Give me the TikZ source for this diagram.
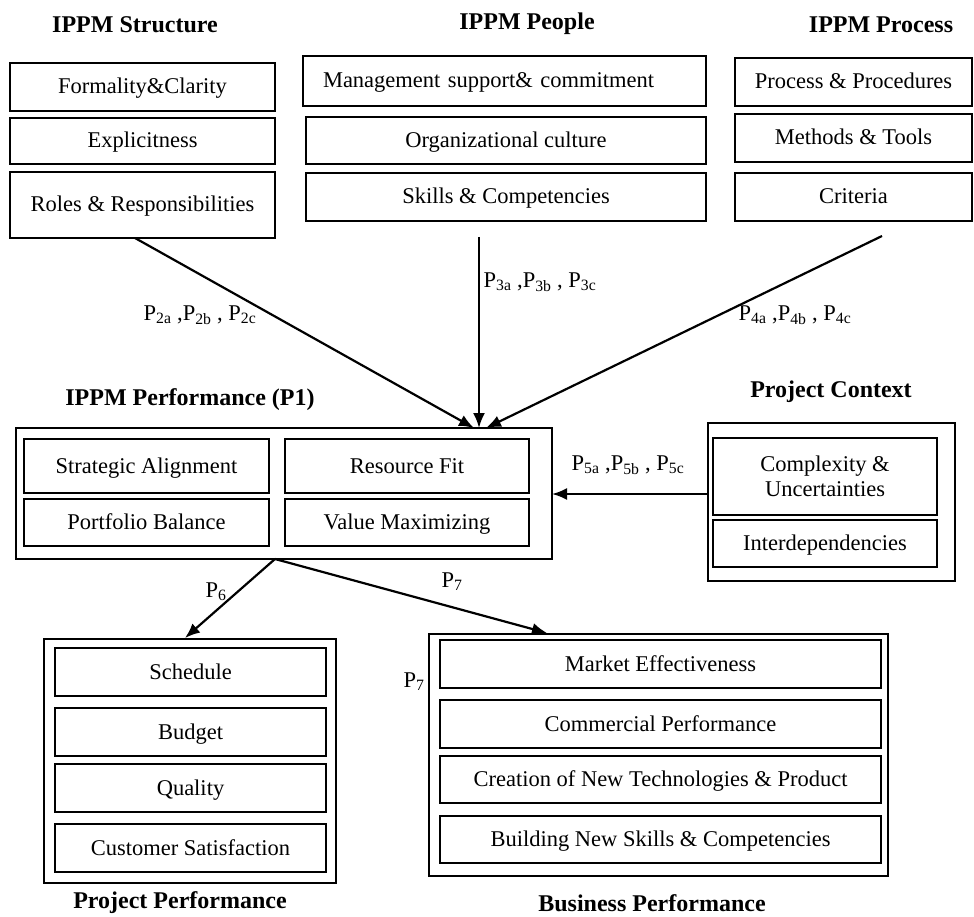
\documentclass[tikz,border=0pt]{standalone}
\usepackage{fontspec}
\setmainfont{Liberation Serif}
\usetikzlibrary{arrows.meta}

\begin{document}
\begin{tikzpicture}[x=1pt, y=-1pt,
  font=\fontsize{22.5}{25}\selectfont,
  box/.style 2 args={draw, line width=1.7pt, inner sep=0pt, text height=17pt, text depth=3pt, minimum width=#1pt, minimum height=#2pt},
  head/.style={font=\fontsize{24}{27}\selectfont\bfseries},
  link/.style={line width=2.2pt, -{Latex[length=15pt,width=12pt]}}]
\useasboundingbox (0,0) rectangle (974,917);

\node[head] (hs) at (135,25) {IPPM Structure};
\node[head] (hp) at (527,24) {IPPM People};
\node[head] (hr) at (881,25) {IPPM Process};
\node[box={265}{48}] (s1) at (142.5,87) {Formality\&Clarity};
\node[box={265}{46}] (s2) at (142.5,141) {Explicitness};
\node[box={265}{66}] (s3) at (142.5,205) {Roles \& Responsibilities};
\node[box={403}{50}, text width=363pt, inner xsep=20pt, align=left] (p1) at (504.5,81) {Management support\& commitment};
\node[box={400}{47}] (p2) at (506,140.5) {Organizational culture};
\node[box={400}{48}] (p3) at (506,197) {Skills \& Competencies};
\node[box={237}{48}] (r1) at (853.5,82) {Process \& Procedures};
\node[box={237}{48}] (r2) at (853.5,138) {Methods \& Tools};
\node[box={237}{48}] (r3) at (853.5,197) {Criteria};

\node[head] (hperf) at (190,400) {IPPM Performance (P1)};
\node[box={536}{131}] (perf) at (284,493.5) {};
\node[box={245}{54}] (a1) at (146.5,466) {Strategic Alignment};
\node[box={244}{54}] (a2) at (407,466) {Resource Fit};
\node[box={245}{47}] (a3) at (146.5,522.5) {Portfolio Balance};
\node[box={244}{47}] (a4) at (407,522.5) {Value Maximizing};

\node[head] (hctx) at (831,392) {Project Context};
\node[box={247}{158}] (ctx) at (831.5,502) {};
\node[box={224}{77}, text height=, text depth=, align=center] (c1) at (825,476.5) {Complexity \&\\Uncertainties};
\node[box={224}{47}] (c2) at (825,543.5) {Interdependencies};

\node[box={292}{244}] (proj) at (190,761) {};
\node[box={271}{48}] (q1) at (190.5,672) {Schedule};
\node[box={271}{48}] (q2) at (190.5,732) {Budget};
\node[box={271}{48}] (q3) at (190.5,788) {Quality};
\node[box={271}{48}] (q4) at (190.5,848) {Customer Satisfaction};
\node[head] (hproj) at (180,903) {Project Performance};

\node[box={459}{242}] (bus) at (658.5,755) {};
\node[box={441}{48}] (b1) at (660.5,664) {Market Effectiveness};
\node[box={441}{48}] (b2) at (660.5,724) {Commercial Performance};
\node[box={441}{47}] (b3) at (660.5,779.5) {Creation of New Technologies \& Product};
\node[box={441}{47}] (b4) at (660.5,839.5) {Building New Skills \& Competencies};
\node[head] (hbus) at (652,903) {Business Performance};

\coordinate (from2) at (135,238);
\coordinate (from3) at (479,237);
\coordinate (from4) at (882,236);
\coordinate (to2) at (474,428);
\coordinate (to3) at (479,428);
\coordinate (to4) at (486,428);
\coordinate (from5) at (708,494);
\coordinate (to5) at (552,494);
\coordinate (from6) at (275,559);
\coordinate (to6) at (185,638);
\coordinate (to7) at (547,633);

\draw[link] (from2) -- (to2);
\draw[link] (from3) -- (to3);
\draw[link] (from4) -- (to4);
\draw[link] (from5) -- (to5);
\draw[link] (from6) -- (to6);
\draw[link] (from6) -- (to7);

\node (l2) at (200,315) {P\textsubscript{2a} ,P\textsubscript{2b} , P\textsubscript{2c}};
\node (l3) at (540,282) {P\textsubscript{3a} ,P\textsubscript{3b} , P\textsubscript{3c}};
\node (l4) at (795,315) {P\textsubscript{4a} ,P\textsubscript{4b} , P\textsubscript{4c}};
\node (l5) at (628,465) {P\textsubscript{5a} ,P\textsubscript{5b} , P\textsubscript{5c}};
\node (l6) at (216,592) {P\textsubscript{6}};
\node (l7) at (452,582) {P\textsubscript{7}};
\node (l7b) at (414,682) {P\textsubscript{7}};
\end{tikzpicture}
\end{document}
